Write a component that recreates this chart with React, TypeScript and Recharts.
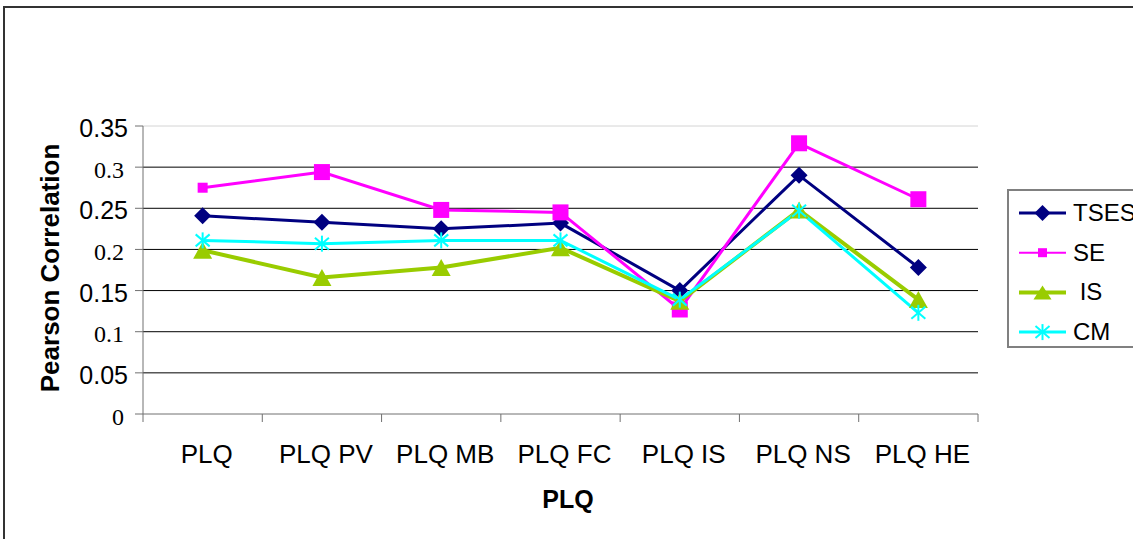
import React from 'react';
import { LineChart, Line, XAxis, YAxis, CartesianGrid, ReferenceLine, Label } from 'recharts';

const categories = ['PLQ', 'PLQ PV', 'PLQ MB', 'PLQ FC', 'PLQ IS', 'PLQ NS', 'PLQ HE'];
const tsesValues = [0.241, 0.233, 0.225, 0.232, 0.15, 0.29, 0.178];
const seValues = [0.275, 0.294, 0.248, 0.245, 0.127, 0.329, 0.261];
const isValues = [0.199, 0.166, 0.178, 0.202, 0.137, 0.248, 0.139];
const cmValues = [0.211, 0.207, 0.211, 0.211, 0.139, 0.247, 0.123];
const yTicks = [0, 0.05, 0.1, 0.15, 0.2, 0.25, 0.3, 0.35];
const gridValues = [0.05, 0.1, 0.15, 0.2, 0.25, 0.3];
const seriesNames = ['TSES', 'SE', 'IS', 'CM'];
const seriesLegendLabels = ['TSES', 'SE', ' IS', 'CM'];

const NAVY = '#000080';
const MAGENTA = '#FF00FF';
const GREEN = '#99CC00';
const CYAN = '#00FFFF';

const data = categories.map((c, i) => ({
  name: c,
  TSES: tsesValues[i],
  SE: seValues[i],
  IS: isValues[i],
  CM: cmValues[i],
}));

const SANS = '"Liberation Sans", Arial, sans-serif';
const SERIF = '"Liberation Serif", "Times New Roman", serif';

const diamond = (cx: number, cy: number, r: number, key?: any) => (
  <path key={key} d={`M${cx},${cy - r} L${cx + r},${cy} L${cx},${cy + r} L${cx - r},${cy} Z`} fill={NAVY} />
);
const square = (cx: number, cy: number, s: number, key?: any) => (
  <rect key={key} x={cx - s / 2} y={cy - s / 2} width={s} height={s} fill={MAGENTA} />
);
const triangle = (cx: number, cy: number, w: number, h: number, key?: any) => (
  <polygon key={key} points={`${cx},${cy - h / 2} ${cx + w / 2},${cy + h / 2} ${cx - w / 2},${cy + h / 2}`} fill={GREEN} />
);
const asterisk = (cx: number, cy: number, key?: any) => (
  <g key={key} stroke={CYAN} strokeWidth={2}>
    <line x1={cx} y1={cy - 8} x2={cx} y2={cy + 8} />
    <line x1={cx - 7} y1={cy - 6} x2={cx + 7} y2={cy + 6} />
    <line x1={cx - 7} y1={cy + 6} x2={cx + 7} y2={cy - 6} />
  </g>
);

const DiamondDot = (p: any) => diamond(p.cx, p.cy, 8.5, `d${p.index}`);
const SquareDot = (p: any) => square(p.cx, p.cy, p.index === 0 ? 10 : 16, `s${p.index}`);
const TriangleDot = (p: any) => triangle(p.cx, p.cy, 19, 17, `t${p.index}`);
const AsteriskDot = (p: any) => asterisk(p.cx, p.cy, `a${p.index}`);

const YTick = (props: any) => {
  const { x, y, payload } = props;
  const label = String(payload.value);
  const serif = label.length <= 3;
  return (
    <text
      x={serif ? x - 4 : x}
      y={y + 2}
      dy="0.36em"
      textAnchor="end"
      fontFamily={serif ? SERIF : SANS}
      fontSize={serif ? 24 : 25}
      fill="#000"
    >
      {label}
    </text>
  );
};

const XTick = (props: any) => {
  const { x, y, payload, index } = props;
  const half = payload && typeof payload.offset === 'number' && payload.offset > 0 ? payload.offset : 835 / categories.length / 2;
  return (
    <g>
      <line x1={x - half} y1={y} x2={x - half} y2={y + 8} stroke="#707070" strokeWidth={1} />
      {index === categories.length - 1 && (
        <line x1={x + half} y1={y} x2={x + half} y2={y + 8} stroke="#707070" strokeWidth={1} />
      )}
      <text x={x + 4} y={y + 49} textAnchor="middle" fontFamily={SANS} fontSize={26} fill="#000">
        {payload.value}
      </text>
    </g>
  );
};

const legendMarkers = [
  (cx: number, cy: number) => diamond(cx, cy, 8),
  (cx: number, cy: number) => square(cx, cy, 9),
  (cx: number, cy: number) => triangle(cx, cy, 18, 14),
  (cx: number, cy: number) => asterisk(cx, cy),
];
const legendColors = [NAVY, MAGENTA, GREEN, CYAN];
const legendWidths = [3, 2, 4, 3];

const LegendBox = () => (
  <svg
    width={200}
    height={162}
    style={{ position: 'absolute', left: 1007, top: 189 }}
  >
    <rect x={1} y={1} width={190} height={157} fill="#fff" stroke="#808080" strokeWidth={2} />
    {seriesNames.map((n, i) => {
      const cy = 24 + i * 39.7;
      return (
        <g key={n}>
          <line x1={12} y1={cy} x2={59} y2={cy} stroke={legendColors[i]} strokeWidth={legendWidths[i]} />
          {legendMarkers[i](35.5, cy)}
          <text x={66} y={cy + 8} fontFamily={SANS} fontSize={24} fill="#000" style={{ whiteSpace: 'pre' }}>
            {seriesLegendLabels[i]}
          </text>
        </g>
      );
    })}
  </svg>
);

export default function App() {
  return (
    <div
      style={{
        position: 'absolute',
        left: 0,
        top: 0,
        width: 1133,
        height: 539,
        overflow: 'hidden',
        background: '#fff',
      }}
    >
      <div
        style={{
          position: 'absolute',
          left: 3,
          top: 6,
          width: 1200,
          height: 600,
          border: '2px solid #333',
          boxSizing: 'border-box',
        }}
      />
      <div style={{ position: 'absolute', left: 0, top: 0 }}>
        <LineChart
          width={1133}
          height={539}
          data={data}
          margin={{ top: 126, right: 155, left: 0, bottom: 0 }}
        >
          <CartesianGrid horizontal vertical={false} stroke="#000" strokeWidth={1} horizontalValues={gridValues} />
          <ReferenceLine y={0.35} stroke="#d4d4d4" strokeWidth={1} />
          <XAxis
            dataKey="name"
            scale="band"
            height={125}
            axisLine={{ stroke: '#707070', strokeWidth: 1 }}
            tickLine={false}
            tickSize={0}
            tickMargin={0}
            interval={0}
            tick={<XTick />}
          >
            <Label
              content={() => (
                <text x={568} y={508} textAnchor="middle" fontFamily={SANS} fontWeight="bold" fontSize={25} fill="#000">
                  PLQ
                </text>
              )}
            />
          </XAxis>
          <YAxis
            width={143}
            domain={[0, 0.35]}
            ticks={yTicks}
            interval={0}
            axisLine={{ stroke: '#707070', strokeWidth: 1 }}
            tickLine={{ stroke: '#707070', strokeWidth: 1 }}
            tickSize={8}
            tickMargin={7}
            tick={<YTick />}
          >
            <Label
              content={() => (
                <text
                  x={50}
                  y={268}
                  transform="rotate(-90 50 268)"
                  textAnchor="middle"
                  dominantBaseline="central"
                  fontFamily={SANS}
                  fontWeight="bold"
                  fontSize={26}
                  fill="#000"
                >
                  Pearson Correlation
                </text>
              )}
            />
          </YAxis>
          <Line dataKey="TSES" stroke={NAVY} strokeWidth={3} dot={DiamondDot} activeDot={false} isAnimationActive={false} />
          <Line dataKey="SE" stroke={MAGENTA} strokeWidth={3} dot={SquareDot} activeDot={false} isAnimationActive={false} />
          <Line dataKey="IS" stroke={GREEN} strokeWidth={4} dot={TriangleDot} activeDot={false} isAnimationActive={false} />
          <Line dataKey="CM" stroke={CYAN} strokeWidth={3} dot={AsteriskDot} activeDot={false} isAnimationActive={false} />
        </LineChart>
      </div>
      <LegendBox />
    </div>
  );
}
